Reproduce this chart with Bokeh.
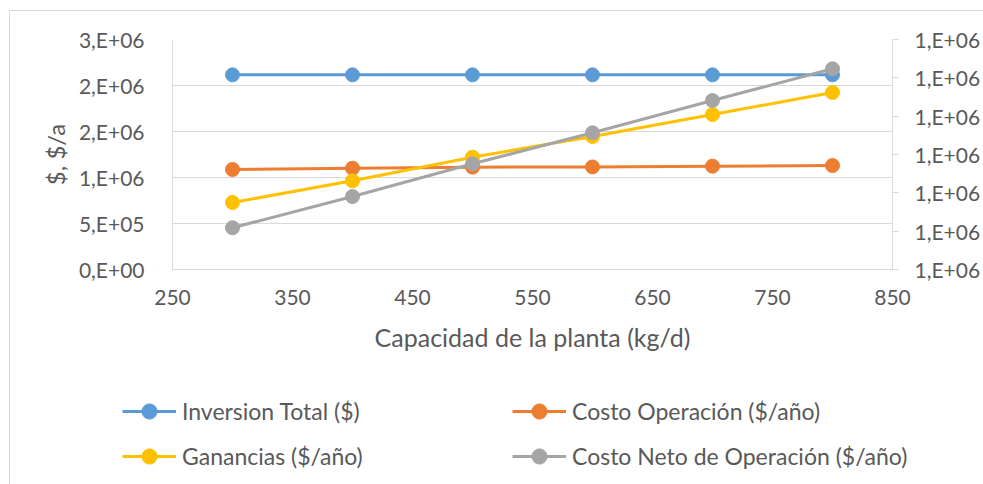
from bokeh.plotting import figure
from bokeh.layouts import column
from bokeh.models import (Range1d, LinearAxis, FixedTicker, CustomJSTickFormatter,
                          Legend, LegendItem)
from bokeh.embed import file_html
from bokeh.resources import INLINE

# ---- data ----
capacidad = [300, 400, 500, 600, 700, 800]
inversion_total = [2116000, 2116000, 2116000, 2116000, 2116000, 2116000]
costo_operacion = [1087000, 1101000, 1112000, 1115000, 1123000, 1130000]
ganancias = [728000, 964000, 1221000, 1446000, 1685000, 1924000]
costo_neto = [1054400, 1095200, 1137900, 1178300, 1220400, 1261800]  # secondary axis

x_ticks = [250, 350, 450, 550, 650, 750, 850]
y_ticks = [0, 500000, 1000000, 1500000, 2000000, 2500000]
y2_ticks = [1000000, 1050000, 1100000, 1150000, 1200000, 1250000, 1300000]

series_names = ["Inversion Total ($)", "Costo Operación ($/año)",
                "Ganancias ($/año)", "Costo Neto de Operación ($/año)"]

FONT = "Lato"
TXT = "#595959"
GRID = "#D9D9D9"

fmt = CustomJSTickFormatter(code="""
if (tick == 0) { return "0,E+00"; }
let e = Math.floor(Math.log10(Math.abs(tick)) + 1e-9);
let m = Math.round(tick / Math.pow(10, e));
if (Math.abs(m) >= 10) { m = m / 10; e += 1; }
const es = (e < 0 ? "-" : "+") + String(Math.abs(e)).padStart(2, "0");
return m + ",E" + es;
""")

p = figure(width=973, height=358,
           x_range=Range1d(250, 850), y_range=Range1d(0, 2500000),
           output_backend="svg", toolbar_location=None,
           min_border_left=162, min_border_right=91,
           min_border_top=28, min_border_bottom=100)
p.outline_line_color = None
p.background_fill_color = "white"
p.border_fill_color = "white"

p.extra_y_ranges = {"y2": Range1d(1000000, 1300000)}

# axes styling
p.xaxis.ticker = FixedTicker(ticks=x_ticks)
p.yaxis.ticker = FixedTicker(ticks=y_ticks)
p.yaxis.formatter = fmt
for ax in (p.xaxis[0], p.yaxis[0]):
    ax.axis_line_color = GRID
    ax.axis_line_width = 1
    ax.major_tick_line_color = None
    ax.minor_tick_line_color = None
    ax.major_label_text_font = FONT
    ax.major_label_text_font_size = "21px"
    ax.major_label_text_color = TXT
    ax.axis_label_text_font = FONT
    ax.axis_label_text_font_size = "24px"
    ax.axis_label_text_font_style = "normal"
    ax.axis_label_text_color = TXT

p.xaxis.axis_label = "Capacidad de la planta (kg/d)"
p.xaxis.axis_label_text_font_size = "25px"
p.yaxis.axis_label = "$, $/a"
p.yaxis.major_label_standoff = 22
p.yaxis.axis_label_standoff = 6
p.xaxis.major_label_standoff = 14
p.xaxis.axis_label_standoff = 14

y2 = LinearAxis(y_range_name="y2", ticker=FixedTicker(ticks=y2_ticks), formatter=fmt)
y2.axis_line_color = GRID
y2.major_tick_line_color = GRID
y2.major_tick_out = 6
y2.major_tick_in = 0
y2.minor_tick_line_color = None
y2.major_label_text_font = FONT
y2.major_label_text_font_size = "21px"
y2.major_label_text_color = TXT
y2.major_label_standoff = 16
p.add_layout(y2, "right")

p.xgrid.grid_line_color = None
p.ygrid.grid_line_color = GRID
p.ygrid.grid_line_width = 1

colors = ["#5B9BD5", "#ED7D31", "#FFC000", "#A5A5A5"]
data = [inversion_total, costo_operacion, ganancias, costo_neto]
ranges = ["default", "default", "default", "y2"]
for ys, c, rn in zip(data, colors, ranges):
    p.line(capacidad, ys, line_color=c, line_width=3, y_range_name=rn)
    p.scatter(capacidad, ys, size=14, fill_color=c, line_color=c, y_range_name=rn)

# legend strip below the chart (its own renderers lie outside its view range)
q = figure(width=973, height=115, x_range=Range1d(0, 1), y_range=Range1d(0, 1),
           output_backend="svg", toolbar_location=None,
           min_border_left=0, min_border_right=0, min_border_top=0, min_border_bottom=0)
q.axis.visible = False
q.grid.visible = False
q.outline_line_color = None
q.border_fill_color = "white"
for fig in (p, q):
    if "frame_align" in fig.properties():
        fig.frame_align = False

renderers = {}
for name, ys, c in zip(series_names, data, colors):
    l = q.line(capacidad, ys, line_color=c, line_width=3)
    s = q.scatter(capacidad, ys, size=14, fill_color=c, line_color=c)
    renderers[name] = [l, s]

# column-major fill: column 1 = items 0 and 2, column 2 = items 1 and 3
order = [0, 2, 1, 3]
items = [LegendItem(label=series_names[i], renderers=renderers[series_names[i]]) for i in order]

legend = Legend(items=items, ncols=2, location=(112, 9))
legend.border_line_color = None
legend.background_fill_alpha = 0
legend.label_text_font = FONT
legend.label_text_font_size = "23px"
legend.label_text_color = TXT
legend.glyph_width = 54
legend.glyph_height = 38
legend.label_height = 38
legend.label_width = 323
legend.label_standoff = 6
legend.spacing = 7
legend.padding = 0
legend.margin = 0
q.add_layout(legend, "center")

layout = column(p, q, spacing=0)
layout.margin = (10, 0, 0, 9)
layout.styles = {"border-left": "1px solid #D9D9D9", "border-top": "1px solid #D9D9D9"}

open("out.html", "w").write(file_html(layout, INLINE))
